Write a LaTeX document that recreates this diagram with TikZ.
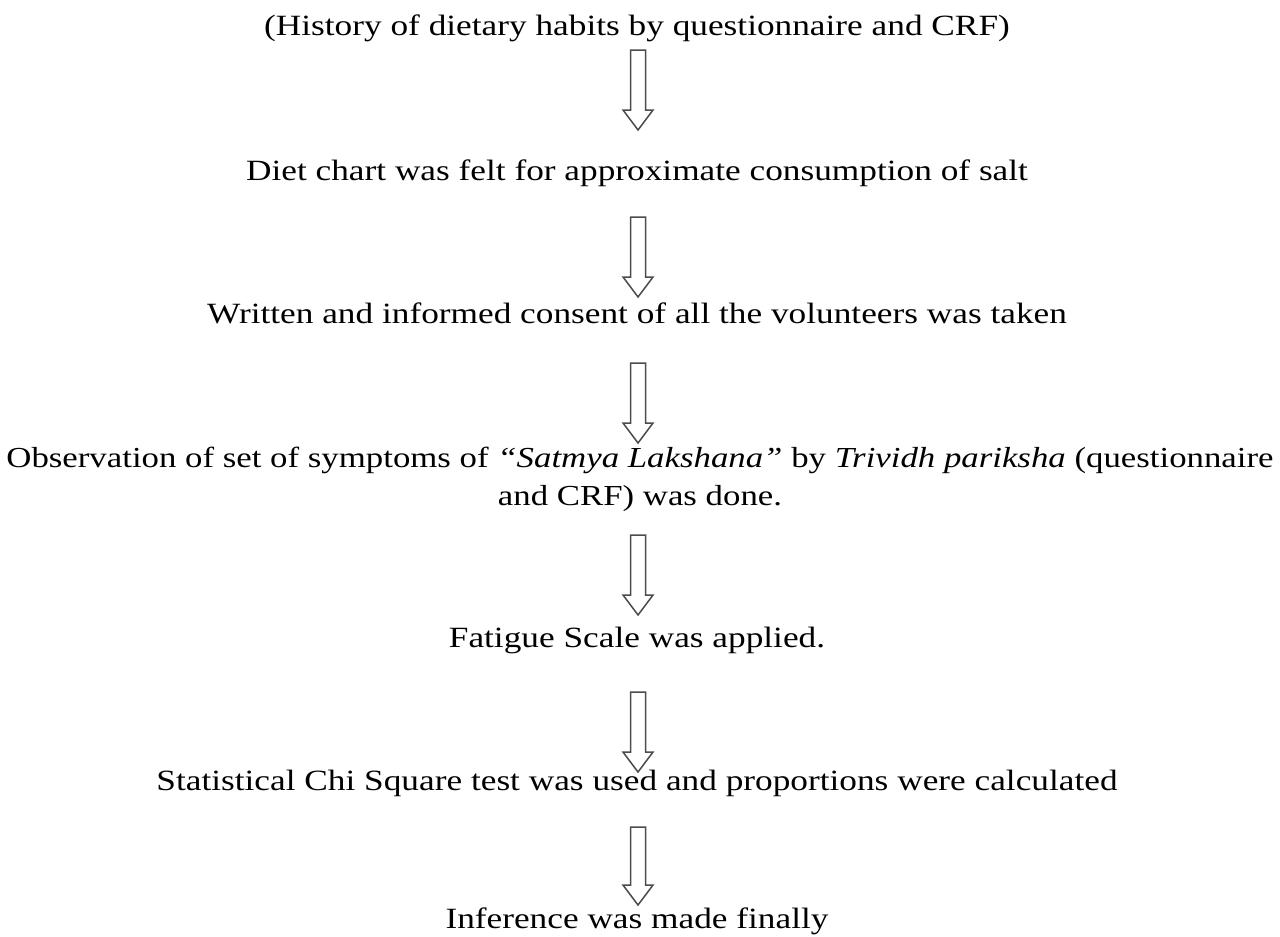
\documentclass[tikz,border=0pt]{standalone}
\usepackage{fontspec}
\setmainfont{Liberation Serif}[FakeStretch=1.2]
\usepackage{tikz}
\usetikzlibrary{positioning,calc}

\tikzset{
  step text/.style={anchor=base,align=center,inner sep=0pt,font=\fontsize{29.4}{38}\selectfont},
  hollow/.style={draw=black!70,line width=1.5pt,fill=white,line join=miter}
}
\newcommand{\blockarrow}[2]{%
  \draw[hollow] ($(#1)+(-7.5,0)$) -- ($(#2)+(-7.5,-20)$) -- ($(#2)+(-15,-20)$) -- (#2)
                -- ($(#2)+(15,-20)$) -- ($(#2)+(7.5,-20)$) -- ($(#1)+(7.5,0)$) -- cycle;}

\begin{document}
\begin{tikzpicture}[x=1pt,y=-1pt]
                \useasboundingbox (0,0) rectangle (1280,937);
                \node[step text] (hist) at (637,35) {(History of dietary habits by questionnaire and CRF)};
                \node[step text] (diet) at (637,180) {Diet chart was felt for approximate consumption of salt};
                \node[step text] (consent) at (637,323) {Written and informed consent of all the volunteers was taken};
                \node[step text,font=\fontsize{29}{38}\selectfont] (obs) at (640,505) {Observation of set of symptoms of \textit{``Satmya Lakshana''} by \textit{Trividh pariksha} (questionnaire\\ and CRF) was done.};
                \node[step text] (fatigue) at (637,647) {Fatigue Scale was applied.};
                \node[step text] (stat) at (637,790) {Statistical Chi Square test was used and proportions were calculated};
                \node[step text] (infer) at (637,928) {Inference was made finally};
                \coordinate (a1) at (638,50);  \coordinate (b1) at (638,130);
                \coordinate (a2) at (638,217); \coordinate (b2) at (638,297);
                \coordinate (a3) at (638,363); \coordinate (b3) at (638,443);
                \coordinate (a4) at (638,535); \coordinate (b4) at (638,615);
                \coordinate (a5) at (638,692); \coordinate (b5) at (638,772);
                \coordinate (a6) at (638,827); \coordinate (b6) at (638,905);
                \blockarrow{a1}{b1}
                \blockarrow{a2}{b2}
                \blockarrow{a3}{b3}
                \blockarrow{a4}{b4}
                \blockarrow{a5}{b5}
                \blockarrow{a6}{b6}
            \end{tikzpicture}
\end{document}
